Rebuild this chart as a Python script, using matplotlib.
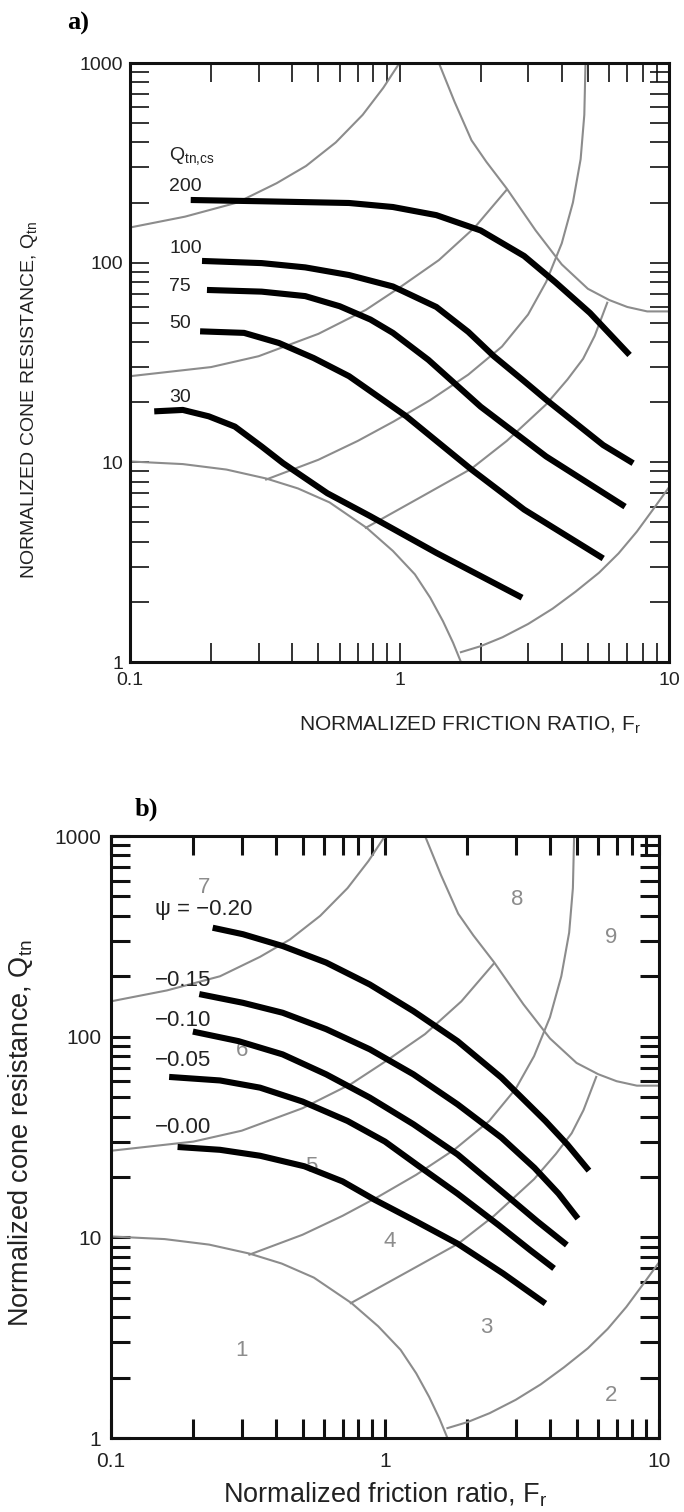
import matplotlib.pyplot as plt
import matplotlib.ticker as ticker

# ---- soil behaviour type boundaries (same chart under both panels) ----
z1_fr = [0.1, 0.157, 0.228, 0.32, 0.42, 0.55, 0.755, 0.945, 1.14, 1.3, 1.45, 1.58, 1.69]
z1_q = [10.1, 9.8, 9.2, 8.3, 7.4, 6.3, 4.7, 3.6, 2.75, 2.1, 1.6, 1.25, 1.0]
z2_fr = [1.69, 2.0, 2.41, 3.0, 3.7, 4.5, 5.5, 6.5, 7.6, 8.8, 10]
z2_q = [1.12, 1.2, 1.33, 1.55, 1.85, 2.25, 2.8, 3.5, 4.5, 5.9, 7.5]
b34_fr = [0.75, 1.2, 1.85, 2.5, 3.5, 4.2, 4.8, 5.3, 5.9]
b34_q = [4.7, 6.7, 9.3, 12.8, 19.5, 26, 33, 43, 63]
b45_fr = [0.32, 0.5, 0.7, 0.95, 1.3, 1.8, 2.4, 3.0, 3.5, 4.0, 4.4, 4.7, 4.85, 4.9]
b45_q = [8.2, 10.3, 12.8, 16, 20.5, 27.5, 38, 55, 80, 125, 200, 330, 550, 1000]
b56_fr = [0.1, 0.2, 0.3, 0.5, 0.75, 1.0, 1.4, 1.9, 2.5]
b56_q = [27, 30, 34, 44, 58, 75, 103, 150, 232]
b67_fr = [0.1, 0.16, 0.25, 0.35, 0.45, 0.58, 0.73, 0.87, 1.0]
b67_q = [150, 170, 200, 250, 305, 400, 550, 750, 1000]
b89_fr = [1.4, 1.6, 1.85, 2.1, 2.5, 3.2, 4.0, 5.0, 6.0, 7.0, 8.3, 10]
b89_q = [1000, 640, 410, 320, 235, 145, 98, 74, 65, 60, 57, 57]

boundaries = [(z1_fr, z1_q), (z2_fr, z2_q), (b34_fr, b34_q), (b45_fr, b45_q),
              (b56_fr, b56_q), (b67_fr, b67_q), (b89_fr, b89_q)]

# ---- panel a: contours of Qtn,cs ----
qcs_labels = ['200', '100', '75', '50', '30']
qcs_label_q = [240, 118, 76, 49.7, 21]
qcs200_fr = [0.168, 0.308, 0.65, 0.945, 1.37, 2.0, 2.9, 3.78, 5.09, 7.14]
qcs200_q = [206, 203, 199, 190, 173, 145, 108, 80, 56, 34.5]
qcs100_fr = [0.185, 0.308, 0.447, 0.65, 0.945, 1.37, 1.8, 2.24, 2.9, 3.5, 5.7, 7.36]
qcs100_q = [102, 99.5, 94.7, 86.7, 76, 60, 45, 34, 25.5, 20.6, 12.2, 9.9]
qcs75_fr = [0.193, 0.308, 0.447, 0.6, 0.78, 0.945, 1.28, 2.0, 3.5, 6.87]
qcs75_q = [73, 71.6, 68, 60.5, 51.9, 44.5, 32.6, 19, 10.7, 6.0]
qcs50_fr = [0.182, 0.265, 0.357, 0.48, 0.65, 1.06, 1.85, 2.9, 5.7]
qcs50_q = [45.3, 44.5, 39.6, 33.3, 27, 17, 9.2, 5.8, 3.3]
qcs30_fr = [0.123, 0.157, 0.196, 0.245, 0.308, 0.37, 0.54, 0.78, 1.37, 2.85]
qcs30_q = [18, 18.3, 17, 15.1, 12, 9.9, 7.0, 5.37, 3.52, 2.1]
qcs_curves = [(qcs200_fr, qcs200_q), (qcs100_fr, qcs100_q), (qcs75_fr, qcs75_q),
              (qcs50_fr, qcs50_q), (qcs30_fr, qcs30_q)]

# ---- panel b: contours of state parameter psi ----
psi_labels = ['\u03c8 = \u22120.20', '\u22120.15', '\u22120.10', '\u22120.05', '\u22120.00']
psi_label_q = [431, 191, 120, 75.7, 35.2]
psi20_fr = [0.235, 0.303, 0.423, 0.61, 0.88, 1.27, 1.84, 2.66, 3.85, 4.63, 5.55]
psi20_q = [349, 324, 283, 234, 182, 134, 95, 62.5, 38, 29, 21.5]
psi15_fr = [0.21, 0.303, 0.423, 0.61, 0.88, 1.27, 1.84, 2.66, 3.51, 4.3, 5.06]
psi15_q = [163, 147.5, 131.6, 109, 86.5, 64.9, 46, 31.4, 22.2, 16.5, 12.4]
psi10_fr = [0.199, 0.292, 0.423, 0.61, 0.88, 1.27, 1.84, 2.66, 3.6, 4.61]
psi10_q = [106, 95, 81.6, 64.9, 49.7, 36.6, 25.9, 17, 12, 9.16]
psi05_fr = [0.163, 0.25, 0.35, 0.5, 0.73, 1.0, 1.32, 1.84, 2.6, 3.4, 4.14]
psi05_q = [63, 60.5, 55.7, 47.5, 38, 30, 22.8, 16.5, 11.5, 8.6, 7.0]
psi00_fr = [0.175, 0.25, 0.35, 0.508, 0.7, 0.916, 1.3, 1.84, 2.7, 3.85]
psi00_q = [28.2, 27.3, 25.5, 22.6, 19, 15.4, 12, 9.3, 6.6, 4.68]
psi_curves = [(psi20_fr, psi20_q), (psi15_fr, psi15_q), (psi10_fr, psi10_q),
              (psi05_fr, psi05_q), (psi00_fr, psi00_q)]

zone_names = ['1', '2', '3', '4', '5', '6', '7', '8', '9']
zone_fr = [0.30, 6.67, 2.34, 1.04, 0.537, 0.30, 0.218, 3.03, 6.67]
zone_q = [2.73, 1.63, 3.57, 9.5, 22.5, 85, 553, 483, 311]

W, H = 684, 1512
GRAY = '#8c8c8c'
SANS = ['Liberation Sans', 'DejaVu Sans']

fig = plt.figure(figsize=(W / 100, H / 100), dpi=100)


def px(x, y):
    return x / W, 1 - y / H


def setup_axes(ax, tick_size, tick_w, spine_w, pad_x, pad_y):
    ax.set_xscale('log')
    ax.set_yscale('log')
    ax.set_xlim(0.1, 10)
    ax.set_ylim(1, 1000)
    ax.set_xticks([0.1, 1, 10], ['0.1', '1', '10'])
    ax.set_yticks([1, 10, 100, 1000], ['1', '10', '100', '1000'])
    ax.xaxis.set_minor_locator(ticker.LogLocator(base=10, subs=range(2, 10)))
    ax.yaxis.set_minor_locator(ticker.LogLocator(base=10, subs=range(2, 10)))
    ax.xaxis.set_minor_formatter(ticker.NullFormatter())
    ax.yaxis.set_minor_formatter(ticker.NullFormatter())
    ax.tick_params(which='both', direction='in', top=True, right=True,
                   length=14, width=tick_w, color='#111111')
    ax.tick_params(axis='x', which='major', pad=pad_x)
    ax.tick_params(axis='y', which='major', pad=pad_y)
    for lab in ax.get_xticklabels() + ax.get_yticklabels():
        lab.set_fontsize(tick_size)
        lab.set_family(SANS)
        lab.set_color('#222222')
    for s in ax.spines.values():
        s.set_linewidth(spine_w)
        s.set_color('#111111')
    for fr, q in boundaries:
        ax.plot(fr, q, color=GRAY, lw=1.5, zorder=2)


# ================= panel a =================
ax_a = fig.add_axes([130 / W, 1 - 662 / H, 539 / W, 599 / H])
setup_axes(ax_a, 14, 1.2, 2.2, 7, 5)
for fr, q in qcs_curves:
    ax_a.plot(fr, q, color='black', lw=4.4, solid_capstyle='butt',
              solid_joinstyle='round', zorder=4)
ax_a.text(0.14, 339, 'Q$_{\\mathregular{tn{,}cs}}$', fontsize=14, family=SANS,
          ha='left', va='center', color='#222222')
for lab, q in zip(qcs_labels, qcs_label_q):
    ax_a.text(0.14, q, lab, fontsize=14, family=SANS, ha='left', va='center',
              color='#222222')

fig.text(*px(30, 400), 'NORMALIZED CONE RESISTANCE, Q$_{\\mathregular{tn}}$',
         rotation=90, fontsize=14, family=SANS, ha='center', va='center',
         color='#222222')
fig.text(*px(470, 725), 'NORMALIZED FRICTION RATIO, F$_{\\mathregular{r}}$',
         fontsize=15, family=SANS, ha='center', va='center', color='#222222')
fig.text(*px(67, 23), 'a)', fontsize=19, family='Liberation Serif',
         fontweight='bold', ha='left', va='center')

# ================= panel b =================
ax_b = fig.add_axes([111 / W, 1 - 1438 / H, 548 / W, 602 / H])
setup_axes(ax_b, 15, 2.2, 2.2, 10, 7)
for fr, q in psi_curves:
    ax_b.plot(fr, q, color='black', lw=4.4, solid_capstyle='butt',
              solid_joinstyle='round', zorder=4)
for lab, q in zip(psi_labels, psi_label_q):
    ax_b.text(0.145, q, lab, fontsize=16, family=SANS, ha='left', va='center',
              color='#222222', zorder=5)
for name, fr, q in zip(zone_names, zone_fr, zone_q):
    ax_b.text(fr, q, name, fontsize=16, family=SANS, ha='center',
              va='center', color=GRAY, zorder=3)

fig.text(*px(21, 1133), 'Normalized cone resistance, Q$_{\\mathregular{tn}}$',
         rotation=90, fontsize=19.5, family=SANS, ha='center',
         va='center', color='#222222')
fig.text(*px(385, 1495), 'Normalized friction ratio, F$_{\\mathregular{r}}$',
         fontsize=19.5, family=SANS, ha='center', va='center',
         color='#222222')
fig.text(*px(135, 809), 'b)', fontsize=19, family='Liberation Serif',
         fontweight='bold', ha='left', va='center')

fig.savefig('out.png', dpi=100)
